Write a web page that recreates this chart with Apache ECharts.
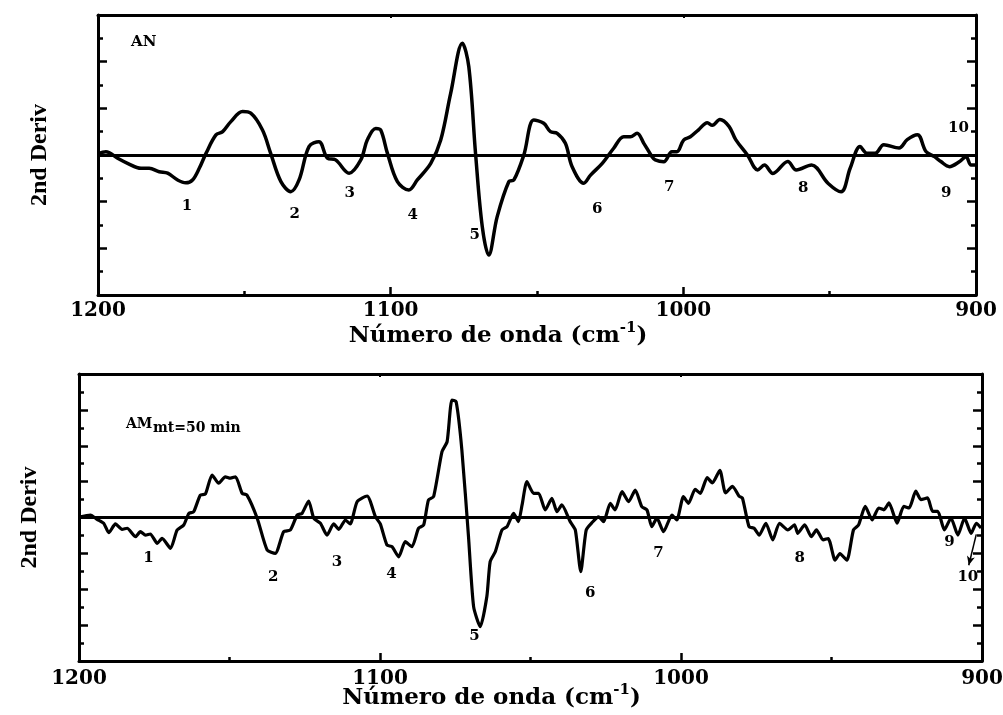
<!DOCTYPE html>
<html>
<head>
<meta charset="utf-8">
<script src="https://cdn.jsdelivr.net/npm/echarts@6/dist/echarts.min.js"></script>
<style>
html, body { margin: 0; padding: 0; background: #ffffff; }
#chart { width: 1003px; height: 715px; }
</style>
</head>
<body>
<div id="chart"></div>
<script>
// Second-derivative spectra, 1200–900 cm-1 (wavenumber, derivative in arbitrary units)
const topWn = [
  1200, 1197.3, 1193.3, 1189.9, 1185.3, 1182.5, 1179.1, 1176.2, 1172.8, 1170.0,
  1167.7, 1165.4, 1163.1, 1159.7, 1157.4, 1154.6, 1150.6, 1147.8, 1143.8, 1141.0,
  1137.5, 1134.1, 1131.3, 1127.9, 1124.5, 1121.6, 1118.8, 1114.2, 1110.2, 1108.0,
  1105.1, 1103.4, 1101.1, 1097.7, 1093.8, 1090.9, 1086.3, 1082.9, 1079.5, 1075.5,
  1073.3, 1071.0, 1068.7, 1066.5, 1063.6, 1059.6, 1057.9, 1054.5, 1051.1, 1047.7,
  1045.4, 1043.1, 1040.3, 1038.0, 1034.0, 1031.7, 1027.7, 1023.8, 1020.4, 1018.1,
  1015.8, 1013.5, 1010.7, 1009.6, 1006.7, 1003.9, 1002.2, 999.9, 997.6, 994.8,
  991.8, 990.1, 987.5, 984.4, 982.1, 978.1, 974.6, 972.3, 969.4, 964.3,
  961.4, 956.2, 950.5, 946.1, 943.0, 939.6, 937.3, 934.4, 931.5, 926.3,
  923.5, 920.0, 917.1, 914.2, 912.0, 909.1, 905.6, 903.4, 901.7, 900
];
const topVal = [
  0.05, 0.14, -0.14, -0.36, -0.57, -0.57, -0.72, -0.78, -1.07, -1.19,
  -1.07, -0.57, 0.07, 0.86, 1.0, 1.43, 1.86, 1.79, 1.07, 0.07,
  -1.14, -1.57, -1.07, 0.36, 0.57, -0.14, -0.21, -0.78, -0.21, 0.64,
  1.14, 1.07, 0.07, -1.14, -1.5, -1.07, -0.36, 0.64, 2.64, 4.79,
  3.78, 0.07, -3.07, -4.29, -2.64, -1.14, -1.07, 0, 1.5, 1.36,
  1.0, 0.93, 0.5, -0.5, -1.21, -0.86, -0.36, 0.29, 0.78, 0.78,
  0.93, 0.5, -0.07, -0.21, -0.29, 0.14, 0.14, 0.64, 0.78, 1.08,
  1.38, 1.27, 1.52, 1.23, 0.66, 0, -0.64, -0.43, -0.79, -0.28,
  -0.64, -0.43, -1.22, -1.58, -0.57, 0.36, 0.08, 0.08, 0.44, 0.3,
  0.66, 0.87, 0.15, -0.07, -0.28, -0.5, -0.28, -0.07, -0.43, -0.43
];

const botWn = [
  1200, 1196.2, 1194.0, 1191.8, 1190.1, 1187.9, 1185.7, 1184.0, 1181.2, 1179.6,
  1177.9, 1176.3, 1174.0, 1172.4, 1169.6, 1167.4, 1165.2, 1163.5, 1161.9, 1159.7,
  1158.0, 1155.8, 1153.6, 1151.4, 1149.7, 1148.0, 1145.8, 1144.2, 1140.8, 1137.5,
  1134.8, 1132.0, 1129.8, 1127.5, 1125.9, 1123.7, 1122.0, 1119.8, 1117.6, 1115.4,
  1113.7, 1111.5, 1109.9, 1107.6, 1104.3, 1101.5, 1099.9, 1097.7, 1096.0, 1093.8,
  1091.6, 1089.4, 1087.2, 1085.5, 1083.9, 1082.2, 1079.4, 1077.7, 1076.1, 1074.7,
  1072.8, 1070.6, 1068.9, 1066.7, 1064.5, 1063.4, 1061.7, 1059.5, 1057.8, 1055.6,
  1054.0, 1052.8, 1051.2, 1049.0, 1047.3, 1045.1, 1042.9, 1041.2, 1039.6, 1036.8,
  1035.1, 1033.3, 1031.5, 1029.6, 1027.4, 1025.7, 1023.5, 1021.9, 1019.6, 1017.4,
  1015.2, 1013.0, 1011.3, 1009.7, 1008.0, 1005.8, 1003.0, 1001.4, 999.2, 997.5,
  995.3, 993.6, 991.3, 989.6, 987.1, 985.2, 982.9, 980.7, 979.6, 977.4,
  975.7, 974.0, 971.8, 969.5, 967.3, 964.5, 962.3, 961.2, 958.9, 956.7,
  955.0, 952.8, 951.1, 948.8, 947.2, 944.9, 942.7, 941.0, 938.8, 936.5,
  934.3, 932.6, 930.9, 928.2, 926.0, 924.2, 922.0, 920.3, 918.1, 916.4,
  914.7, 912.5, 910.3, 908.0, 905.8, 903.6, 901.9, 900.3
];
const botVal = [
  0.03, 0.14, -0.1, -0.32, -0.85, -0.36, -0.66, -0.6, -1.07, -0.79,
  -0.98, -0.92, -1.44, -1.16, -1.72, -0.7, -0.42, 0.23, 0.32, 1.25,
  1.31, 2.37, 1.91, 2.27, 2.19, 2.27, 1.35, 1.25, -0.04, -1.81,
  -2.0, -0.79, -0.7, 0.14, 0.23, 0.92, -0.04, -0.32, -0.98, -0.36,
  -0.66, -0.14, -0.36, 0.88, 1.2, 0.04, -0.36, -1.53, -1.63, -2.19,
  -1.35, -1.63, -0.6, -0.42, 0.98, 1.16, 3.67, 4.23, 6.55, 6.45,
  3.76, -1.07, -4.97, -6.09, -4.41, -2.46, -1.91, -0.7, -0.51, 0.23,
  -0.23, 0.7, 2.0, 1.35, 1.35, 0.42, 1.07, 0.32, 0.7, -0.23,
  -0.7, -3.02, -0.7, -0.29, 0.04, -0.23, 0.79, 0.42, 1.44, 0.88,
  1.53, 0.6, 0.42, -0.51, -0.04, -0.79, 0.14, -0.14, 1.16, 0.79,
  1.57, 1.35, 2.22, 1.93, 2.63, 1.37, 1.74, 1.18, 1.09, -0.51,
  -0.6, -0.98, -0.32, -1.25, -0.32, -0.69, -0.41, -0.88, -0.41, -1.07,
  -0.69, -1.25, -1.17, -2.38, -2.01, -2.38, -0.69, -0.41, 0.62, -0.13,
  0.53, 0.43, 0.81, -0.32, 0.62, 0.53, 1.47, 1.0, 1.09, 0.34,
  0.34, -0.69, -0.03, -0.98, -0.03, -0.88, -0.32, -0.59
];

// Band numbers, anchored in data coordinates (wavenumber, derivative)
const topTagText = ['1', '2', '3', '4', '5', '6', '7', '8', '9', '10'];
const topTagWn   = [1169.6, 1132.8, 1114.0, 1092.5, 1071.3, 1029.4, 1004.8, 959.0, 910.2, 906.0];
const topTagVal  = [-2.19, -2.53, -1.63, -2.57, -3.43, -2.31, -1.37, -1.41, -1.63, 1.16];

const botTagText = ['1', '2', '3', '4', '5', '6', '7', '8', '9', '10'];
const botTagWn   = [1176.9, 1135.5, 1114.3, 1096.2, 1068.6, 1030.2, 1007.5, 960.6, 910.8, 904.7];
const botTagVal  = [-2.26, -3.3, -2.46, -3.15, -6.64, -4.19, -2.0, -2.29, -1.39, -3.32];

// Pointer from band 10 label to its position on the lower trace
const botArrowFrom = [901.9, -0.94];
const botArrowTo   = [904.4, -2.66];

const xTickValues = [1200, 1100, 1000, 900];

const SERIF = '"DejaVu Serif", "Liberation Serif", serif';
const TIMES = '"Liberation Serif", "DejaVu Serif", serif';

function pairs(xs, ys) { return xs.map((x, i) => [x, ys[i]]); }
function tags(text, xs, ys) { return text.map((t, i) => ({ name: t, value: [xs[i], ys[i]] })); }

const axisNameRich = {
  t: { fontFamily: SERIF, fontWeight: 'bold', fontSize: 23, color: '#000', lineHeight: 30 },
  s: { fontFamily: SERIF, fontWeight: 'bold', fontSize: 15, color: '#000', lineHeight: 15, verticalAlign: 'top' }
};

function bottomXAxis(gridIndex, labelMargin, nameGap) {
  return {
    type: 'value', gridIndex, position: 'bottom',
    min: 900, max: 1200, interval: 100, inverse: true,
    axisLine: { show: true, onZero: false, lineStyle: { color: '#000', width: 3 } },
    axisTick: { show: true, inside: true, length: 8, lineStyle: { color: '#000', width: 2.5 } },
    minorTick: { show: true, splitNumber: 2, length: 4, lineStyle: { color: '#000', width: 2.5 } },
    splitLine: { show: false },
    axisLabel: {
      show: true, margin: labelMargin, color: '#000', fontFamily: SERIF, fontWeight: 'bold', fontSize: 20,
      formatter: v => (xTickValues.indexOf(v) >= 0 ? String(v) : '')
    },
    name: '{t|Número de onda (cm}{s|-1}{t|)}',
    nameLocation: 'middle', nameGap, nameMoveOverlap: false,
    nameTextStyle: { rich: axisNameRich, padding: [0, 78, 0, 0] }
  };
}
function topXAxis(gridIndex) {
  return {
    type: 'value', gridIndex, position: 'top',
    min: 900, max: 1200, interval: 100, inverse: true,
    axisLine: { show: true, onZero: false, lineStyle: { color: '#000', width: 3 } },
    axisTick: { show: true, inside: true, length: 3, lineStyle: { color: '#000', width: 2 } },
    minorTick: { show: true, splitNumber: 2, length: 2, lineStyle: { color: '#000', width: 2 } },
    splitLine: { show: false }, axisLabel: { show: false }
  };
}
function yAxis(gridIndex, position, lim, withName, nameGap) {
  const a = {
    type: 'value', gridIndex, position,
    min: -lim, max: lim, interval: 2,
    axisLine: { show: true, onZero: false, lineStyle: { color: '#000', width: 3 } },
    axisTick: { show: true, inside: true, length: 9, lineStyle: { color: '#000', width: 2.5 } },
    minorTick: { show: true, splitNumber: 2, length: 5, lineStyle: { color: '#000', width: 2.5 } },
    splitLine: { show: false }, axisLabel: { show: false }
  };
  if (withName) {
    a.name = '2nd Deriv';
    a.nameLocation = 'middle';
    a.nameGap = nameGap;
    a.nameMoveOverlap = false;
    a.nameTextStyle = { fontFamily: TIMES, fontWeight: 'bold', fontSize: 24, color: '#000' };
  }
  return a;
}

const zeroLine = {
  silent: true, symbol: 'none', label: { show: false },
  lineStyle: { color: '#000', width: 3, type: 'solid' },
  data: [{ yAxis: 0 }]
};
const tagLabel = {
  show: true, position: 'inside', formatter: '{b}',
  fontFamily: SERIF, fontWeight: 'bold', fontSize: 15, color: '#000',
  textBorderWidth: 0, textBorderColor: 'transparent', opacity: 1
};

const chart = echarts.init(document.getElementById('chart'), null, { renderer: 'canvas' });
chart.setOption({
  backgroundColor: '#ffffff',
  animation: false,
  grid: [
    { left: 98, top: 15, width: 878, height: 280, containLabel: false, outerBoundsMode: 'none' },
    { left: 79, top: 374, width: 903, height: 287, containLabel: false, outerBoundsMode: 'none' }
  ],
  xAxis: [
    bottomXAxis(0, 6, 26),
    topXAxis(0),
    bottomXAxis(1, 8, 22),
    topXAxis(1)
  ],
  yAxis: [
    yAxis(0, 'left', 6, true, 46),
    yAxis(0, 'right', 6, false),
    yAxis(1, 'left', 8, true, 37),
    yAxis(1, 'right', 8, false)
  ],
  graphic: [
    { type: 'text', left: 131, top: 35, style: { text: 'AN', font: 'bold 15px ' + SERIF, fill: '#000' } },
    { type: 'text', left: 126, top: 417, style: { text: 'AM', font: 'bold 14px ' + SERIF, fill: '#000' } },
    { type: 'text', left: 153, top: 421, style: { text: 'mt=50 min', font: 'bold 14px ' + SERIF, fill: '#000' } }
  ],
  series: [
    {
      type: 'line', xAxisIndex: 0, yAxisIndex: 0,
      data: pairs(topWn, topVal), showSymbol: false, smooth: 0.35,
      lineStyle: { color: '#000', width: 3.5 }, z: 3,
      markLine: zeroLine
    },
    {
      type: 'scatter', xAxisIndex: 0, yAxisIndex: 0, symbolSize: 0, silent: true,
      itemStyle: { color: '#000' },
      data: tags(topTagText, topTagWn, topTagVal), label: tagLabel
    },
    {
      type: 'line', xAxisIndex: 2, yAxisIndex: 2,
      data: pairs(botWn, botVal), showSymbol: false, smooth: 0.2,
      lineStyle: { color: '#000', width: 3.2 }, z: 3,
      markLine: zeroLine
    },
    {
      type: 'scatter', xAxisIndex: 2, yAxisIndex: 2, symbolSize: 0, silent: true,
      itemStyle: { color: '#000' },
      data: tags(botTagText, botTagWn, botTagVal), label: tagLabel,
      markLine: {
        silent: true, symbol: ['none', 'arrow'], symbolSize: [6, 9], label: { show: false },
        lineStyle: { color: '#000', width: 1.5, type: 'solid' },
        data: [[{ coord: botArrowFrom }, { coord: botArrowTo }]]
      }
    }
  ]
});
</script>
</body>
</html>
